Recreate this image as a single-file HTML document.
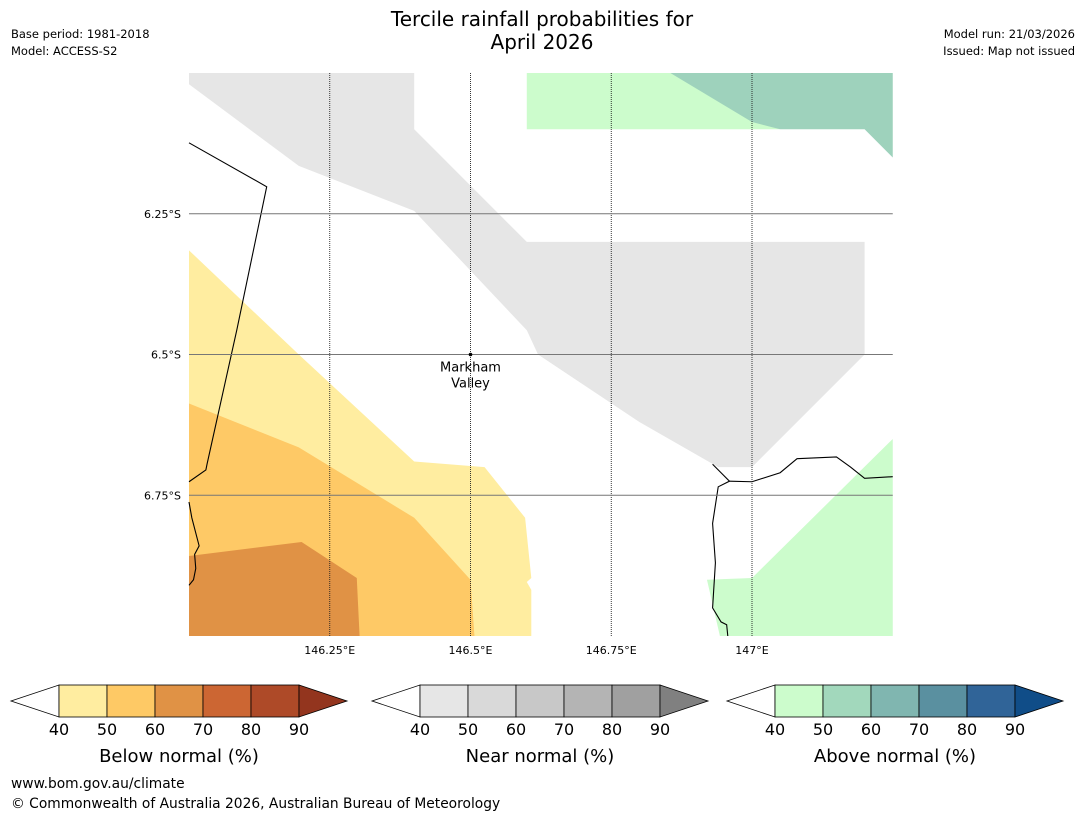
<!DOCTYPE html>
<html><head><meta charset="utf-8"><style>
body{margin:0;background:#fff;font-family:"DejaVu Sans","Liberation Sans",sans-serif}
</style></head><body>
<svg id="s" width="1085" height="816" xmlns="http://www.w3.org/2000/svg" font-family="DejaVu Sans, Liberation Sans, sans-serif">
<text x="542" y="26" font-size="20" text-anchor="middle">Tercile rainfall probabilities for</text>
<text x="542" y="49" font-size="20" text-anchor="middle">April 2026</text>
<text x="11" y="38" font-size="11.5">Base period: 1981-2018</text>
<text x="11" y="55" font-size="11.5">Model: ACCESS-S2</text>
<text x="1075" y="38" font-size="11.5" text-anchor="end">Model run: 21/03/2026</text>
<text x="1075" y="55" font-size="11.5" text-anchor="end">Issued: Map not issued</text>
<g id="map"></g>
<g id="cbars"></g>
<text x="11" y="788" font-size="13.8">www.bom.gov.au/climate</text>
<text x="11" y="808" font-size="13.8">© Commonwealth of Australia 2026, Australian Bureau of Meteorology</text>
</svg>
<script>
const lonTicks=[146.25,146.5,146.75,147];
const latTicks=[6.25,6.5,6.75];
const lonTickLabels=["146.25°E","146.5°E","146.75°E","147°E"];
const latTickLabels=["6.25°S","6.5°S","6.75°S"];
const cbTicks=[40,50,60,70,80,90];
const cbTitles=["Below normal (%)","Near normal (%)","Above normal (%)"];
const belowColors=["#ffeda0","#fec965","#e09245","#cc6633","#ae4a28","#93351e"];
const nearColors=["#e6e6e6","#d9d9d9","#c8c8c8","#b4b4b4","#a0a0a0","#808080"];
const aboveColors=["#ccfccc","#a2d8bc","#80b6b0","#5a90a0","#306498","#104d88"];
const regions=[
 {name:"near-normal-40-50",fill:"#e6e6e6",pts:[[146,6],[146.4,6],[146.4,6.1],[146.6,6.3],[147.2,6.3],[147.2,6.5],[147,6.7],[146.94,6.7],[146.8,6.62],[146.62,6.5],[146.6,6.457],[146.4,6.245],[146.195,6.165],[146,6.02]]},
 {name:"below-normal-40-50",fill:"#ffeda0",pts:[[146,6.315],[146.195,6.5],[146.4,6.69],[146.525,6.7],[146.597,6.79],[146.608,6.897],[146.6,6.904],[146.608,6.918],[146.608,7],[146,7]]},
 {name:"below-normal-50-60",fill:"#fec966",pts:[[146,6.587],[146.195,6.665],[146.4,6.79],[146.5,6.9],[146.507,7],[146,7]]},
 {name:"below-normal-60-70",fill:"#e09245",pts:[[146,6.858],[146.2,6.833],[146.298,6.897],[146.303,7],[146,7]]},
 {name:"above-normal-40-50-top",fill:"#ccfccc",pts:[[146.6,6],[146.855,6],[147.05,6.1],[146.6,6.1]]},
 {name:"above-normal-50-60",fill:"#9ed2bc",pts:[[146.855,6],[147.25,6],[147.25,6.15],[147.2,6.1],[147.05,6.1],[147,6.087]]},
 {name:"above-normal-40-50-bottom",fill:"#ccfccc",pts:[[147.25,6.65],[147,6.897],[146.92,6.9],[146.943,7],[147.25,7]]}
];
const coasts=[
 [[146,6.124],[146.138,6.202],[146.085,6.456],[146.032,6.695],[146.03,6.705],[146,6.726]],
 [[146,6.762],[146.005,6.79],[146.018,6.84],[146.01,6.855],[146.012,6.88],[146.008,6.9],[146.0,6.91]],
 [[146.93,6.695],[146.945,6.71],[146.96,6.725],[146.94,6.735],[146.93,6.8],[146.935,6.87],[146.93,6.95],[146.945,6.975],[146.955,6.98],[146.957,7]],
 [[146.96,6.725],[147.0,6.726],[147.05,6.71],[147.08,6.685],[147.15,6.682],[147.175,6.7],[147.2,6.72],[147.25,6.717]]
];
const S=563,X0=146,Y0=6,L=189,T=73;
const px=lon=>L+(lon-X0)*S, py=lat=>T+(lat-Y0)*S;
const NS="http://www.w3.org/2000/svg";
function mk(tag,attrs,parent){const e=document.createElementNS(NS,tag);for(const k in attrs)e.setAttribute(k,attrs[k]);parent.appendChild(e);return e;}
const map=document.getElementById('map');
regions.forEach(r=>{const p=mk('polygon',{points:r.pts.map(q=>px(q[0])+','+py(q[1])).join(' '),fill:r.fill},map);

});
coasts.forEach((c,i)=>{const p=mk('polyline',{points:c.map(q=>px(q[0])+','+py(q[1])).join(' '),fill:'none',stroke:'#000','stroke-width':1.1},map);

});
const R=px(147.25),B=py(7);
lonTicks.forEach((v,i)=>{const l=mk('line',{x1:px(v),x2:px(v),y1:T,y2:B,stroke:'#222','stroke-width':0.9,'stroke-dasharray':'1,1'},map);


const t=mk('text',{x:px(v),y:B+18,'font-size':11,'text-anchor':'middle'},map);t.textContent=lonTickLabels[i];

});
latTicks.forEach((v,i)=>{const l=mk('line',{x1:L,x2:R,y1:py(v),y2:py(v),stroke:'#777','stroke-width':1},map);


const t=mk('text',{x:L-8,y:py(v)+4,'font-size':11,'text-anchor':'end'},map);t.textContent=latTickLabels[i];

});
const d=mk('circle',{cx:px(146.5),cy:py(6.5),r:1.8,fill:'#000'},map);


[["Markham",py(6.5)+17],["Valley",py(6.5)+33]].forEach(a=>{const t=mk('text',{x:px(146.5),y:a[1],'font-size':13,'text-anchor':'middle'},map);t.textContent=a[0];

});
const cb=document.getElementById('cbars');
[[11,belowColors],[372,nearColors],[727,aboveColors]].forEach((c,ci)=>{
 const x0=c[0],y=685,h=32,w=48,rx=x0+48;
 const lt=mk('polygon',{points:`${x0},${y+h/2} ${rx},${y} ${rx},${y+h}`,fill:'#fff',stroke:'#000','stroke-width':0.8},cb);
 
 
 for(let i=0;i<5;i++){const r=mk('rect',{x:rx+i*w,y:y,width:w,height:h,fill:c[1][i],stroke:'#000','stroke-width':0.8},cb);
 
 }
 const ex=rx+5*w;
 const rt=mk('polygon',{points:`${ex},${y} ${ex+48},${y+h/2} ${ex},${y+h}`,fill:c[1][5],stroke:'#000','stroke-width':0.8},cb);
 
 
 cbTicks.forEach((v,i)=>{const t=mk('text',{x:rx+i*w,y:735,'font-size':16,'text-anchor':'middle'},cb);t.textContent=v;
 
 });
 const tt=mk('text',{x:rx+2.5*w,y:762,'font-size':18,'text-anchor':'middle'},cb);tt.textContent=cbTitles[ci];
 
 
});
</script>
</body></html>
